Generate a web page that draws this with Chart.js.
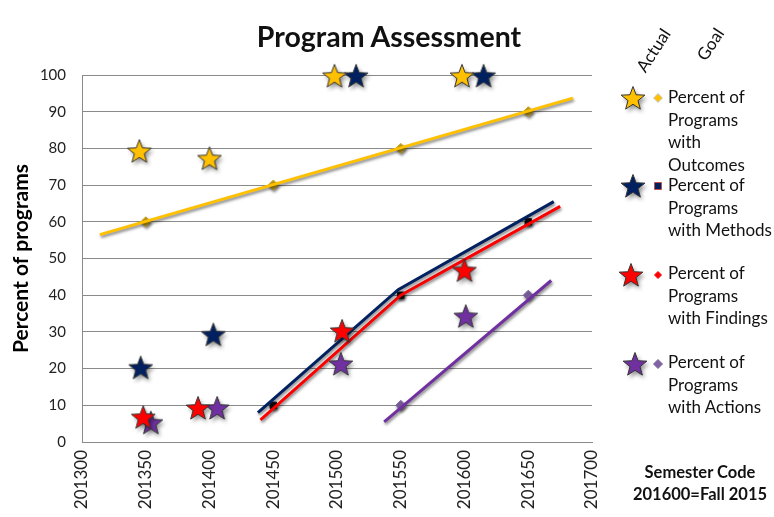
<!DOCTYPE html>
<html lang="en">
<head>
<meta charset="UTF-8" />
<title>Program Assessment</title>
<script src="https://cdn.jsdelivr.net/npm/chart.js"></script>
<style>
  body { margin: 0; background: #fff; font-family: Lato, "Open Sans", sans-serif; color: #111; }
  #wrap { position: relative; width: 774px; height: 517px; overflow: hidden; }
  .abs { position: absolute; white-space: nowrap; }
  #title { left: 0; width: 778px; top: 19px; text-align: center; font-weight: bold; font-size: 28.5px; line-height: 34px; }
  .hdr { font-size: 17px; transform: translate(-50%, -50%) rotate(-57deg); }
  .lg { left: 668px; font-size: 17px; line-height: 22.5px; }
  .note { left: 628px; width: 144px; text-align: center; font-weight: bold; font-size: 16.5px; line-height: 22px; }
  .mk { position: absolute; }
</style>
</head>
<body>
<div id="wrap">
  <canvas id="c" width="774" height="517"></canvas>
  <div id="title" class="abs">Program Assessment</div>
  <div class="abs hdr" style="left:653px;top:50px">Actual</div>
  <div class="abs hdr" style="left:710px;top:44px">Goal</div>
  <div class="abs lg" style="top:86px">Percent of<br>Programs<br>with<br>Outcomes</div>
  <div class="abs lg" style="top:174px">Percent of<br>Programs<br>with Methods</div>
  <div class="abs lg" style="top:262px">Percent of<br>Programs<br>with Findings</div>
  <div class="abs lg" style="top:351px">Percent of<br>Programs<br>with Actions</div>
  <div class="abs note" style="top:461px">Semester Code<br>201600=Fall 2015</div>
</div>
<script>
// axis ticks
const xTicks = [201300, 201350, 201400, 201450, 201500, 201550, 201600, 201650, 201700];
const yTicks = [0, 10, 20, 30, 40, 50, 60, 70, 80, 90, 100];

// actual values (stars)
const outcomesX = [201345, 201400, 201498, 201598];
const outcomesY = [79, 77, 99.5, 99.5];
const methodsX = [201346, 201403, 201515, 201615];
const methodsY = [20, 29, 99.5, 99.5];
const findingsX = [201348, 201391, 201504, 201600];
const findingsY = [6.5, 9, 30, 46.5];
const actionsX = [201354, 201406, 201503, 201601];
const actionsY = [5, 9, 21, 34];

// goals (small markers)
const outcomesGoalX = [201350, 201450, 201550, 201650];
const outcomesGoalY = [60, 70, 80, 90];
const methodsGoalX = [201450, 201550, 201650];
const methodsGoalY = [10, 40, 60];
const findingsGoalX = [201450, 201550, 201650];
const findingsGoalY = [10, 40, 60];
const actionsGoalX = [201550, 201650];
const actionsGoalY = [10, 40];

// goal lines as drawn
const outcomesLineX = [201314, 201685];
const outcomesLineY = [56.5, 93.7];
const methodsLineX = [201438, 201548, 201670];
const methodsLineY = [8, 41.5, 65.5];
const findingsLineX = [201440, 201550, 201675];
const findingsLineY = [6, 40, 64.2];
const actionsLineX = [201537, 201668];
const actionsLineY = [5.5, 44];

const GOLD = '#FFC000', NAVY = '#002060', RED = '#FF0000', PURPLE = '#7030A0';

function pts(xs, ys) { return xs.map((x, i) => ({ x: x, y: ys[i] })); }

function makeStar(color, r) {
  const c = document.createElement('canvas');
  c.width = 40; c.height = 40;
  const g = c.getContext('2d');
  g.beginPath();
  for (let i = 0; i < 10; i++) {
    const rr = i % 2 ? r * 0.42 : r;
    const a = -Math.PI / 2 + i * Math.PI / 5;
    g.lineTo(20 + rr * Math.cos(a), 20 + rr * Math.sin(a));
  }
  g.closePath();
  g.shadowColor = 'rgba(0,0,0,0.45)'; g.shadowBlur = 4; g.shadowOffsetX = 2; g.shadowOffsetY = 3;
  g.fillStyle = color; g.fill();
  g.shadowColor = 'transparent';
  g.lineWidth = 1; g.strokeStyle = '#333'; g.stroke();
  return c;
}

function starSet(xs, ys, color) {
  return { type: 'scatter', data: pts(xs, ys), pointStyle: makeStar(color, 12.5), pointRadius: 12, order: 1, clip: false };
}
function goalSet(xs, ys, style, fill, r) {
  return { type: 'scatter', data: pts(xs, ys), pointStyle: style, pointRadius: r, backgroundColor: fill,
           borderColor: fill, borderWidth: 1, order: 3, shadow: true };
}
function lineSet(xs, ys, color) {
  return { type: 'line', data: pts(xs, ys), borderColor: color, borderWidth: 3, pointRadius: 0,
           fill: false, tension: 0, order: 2, shadow: true };
}

const shadowPlugin = {
  id: 'shadow',
  beforeDatasetDraw(chart, args) {
    const ds = chart.data.datasets[args.index];
    chart.ctx.save();
    if (ds.shadow) {
      chart.ctx.shadowColor = 'rgba(0,0,0,0.5)';
      chart.ctx.shadowBlur = 3; chart.ctx.shadowOffsetX = 1; chart.ctx.shadowOffsetY = 2;
    }
  },
  afterDatasetDraw(chart) { chart.ctx.restore(); }
};

new Chart(document.getElementById('c'), {
  type: 'scatter',
  data: {
    datasets: [
      starSet(outcomesX, outcomesY, GOLD),
      starSet(methodsX, methodsY, NAVY),
      starSet(findingsX, findingsY, RED),
      starSet(actionsX, actionsY, PURPLE),
      lineSet(outcomesLineX, outcomesLineY, GOLD),
      lineSet(methodsLineX, methodsLineY, NAVY),
      lineSet(findingsLineX, findingsLineY, RED),
      lineSet(actionsLineX, actionsLineY, PURPLE),
      goalSet(outcomesGoalX, outcomesGoalY, 'rectRot', '#C9A21A', 5),
      goalSet(methodsGoalX, methodsGoalY, 'rect', '#111', 4.5),
      goalSet(findingsGoalX, findingsGoalY, 'rectRot', RED, 3),
      goalSet(actionsGoalX, actionsGoalY, 'rectRot', '#8064A2', 5)
    ]
  },
  options: {
    responsive: false,
    animation: false,
    layout: { padding: { top: 75, right: 182, left: 0, bottom: 0 } },
    plugins: { legend: { display: false }, tooltip: { enabled: false } },
    scales: {
      x: {
        type: 'linear', min: 201300, max: 201700,
        afterBuildTicks: s => { s.ticks = xTicks.map(v => ({ value: v })); },
        afterFit: s => { s.height = 75; },
        grid: { display: false },
        border: { display: true, color: '#8a8a8a', width: 1 },
        ticks: { minRotation: 90, maxRotation: 90, padding: 0, color: '#222',
                 font: { family: 'Lato', size: 17 }, callback: v => String(v) }
      },
      y: {
        min: 0, max: 100,
        afterBuildTicks: s => { s.ticks = yTicks.map(v => ({ value: v })); },
        afterFit: s => { s.width = 82; },
        grid: { color: '#8a8a8a', lineWidth: 1, drawTicks: false },
        border: { display: true, color: '#8a8a8a', width: 1 },
        ticks: { padding: 16, color: '#222', font: { family: 'Lato', size: 15 } },
        title: { display: true, text: 'Percent of programs', color: '#000', padding: { top: 9, bottom: 0 },
                 font: { family: 'Lato', size: 21, weight: 'bold' } }
      }
    }
  },
  plugins: [shadowPlugin]
});

// legend markers
const wrap = document.getElementById('wrap');
function place(el, cx, cy) {
  el.classList.add('mk');
  el.style.left = (cx - el.width / 2) + 'px';
  el.style.top = (cy - el.height / 2) + 'px';
  wrap.appendChild(el);
}
function small(shape, fill, stroke, size) {
  const c = document.createElement('canvas');
  c.width = 12; c.height = 12;
  const g = c.getContext('2d');
  g.fillStyle = fill; g.strokeStyle = stroke; g.lineWidth = 1;
  g.beginPath();
  if (shape === 'diamond') { g.moveTo(6, 6 - size); g.lineTo(6 + size, 6); g.lineTo(6, 6 + size); g.lineTo(6 - size, 6); }
  else { g.rect(6 - size, 6 - size, size * 2, size * 2); }
  g.closePath(); g.fill(); g.stroke();
  return c;
}
place(makeStar(GOLD, 12.5), 633, 99);
place(makeStar(NAVY, 12.5), 633, 187);
place(makeStar(RED, 12.5), 631, 276);
place(makeStar(PURPLE, 12.5), 635, 365);
place(small('diamond', GOLD, '#bcd', 4.5), 658, 98);
place(small('square', NAVY, '#c0504d', 3.5), 658, 186);
place(small('diamond', RED, RED, 3.5), 658, 275);
place(small('diamond', '#8064A2', '#8064A2', 4.5), 658, 364);
</script>
</body>
</html>
